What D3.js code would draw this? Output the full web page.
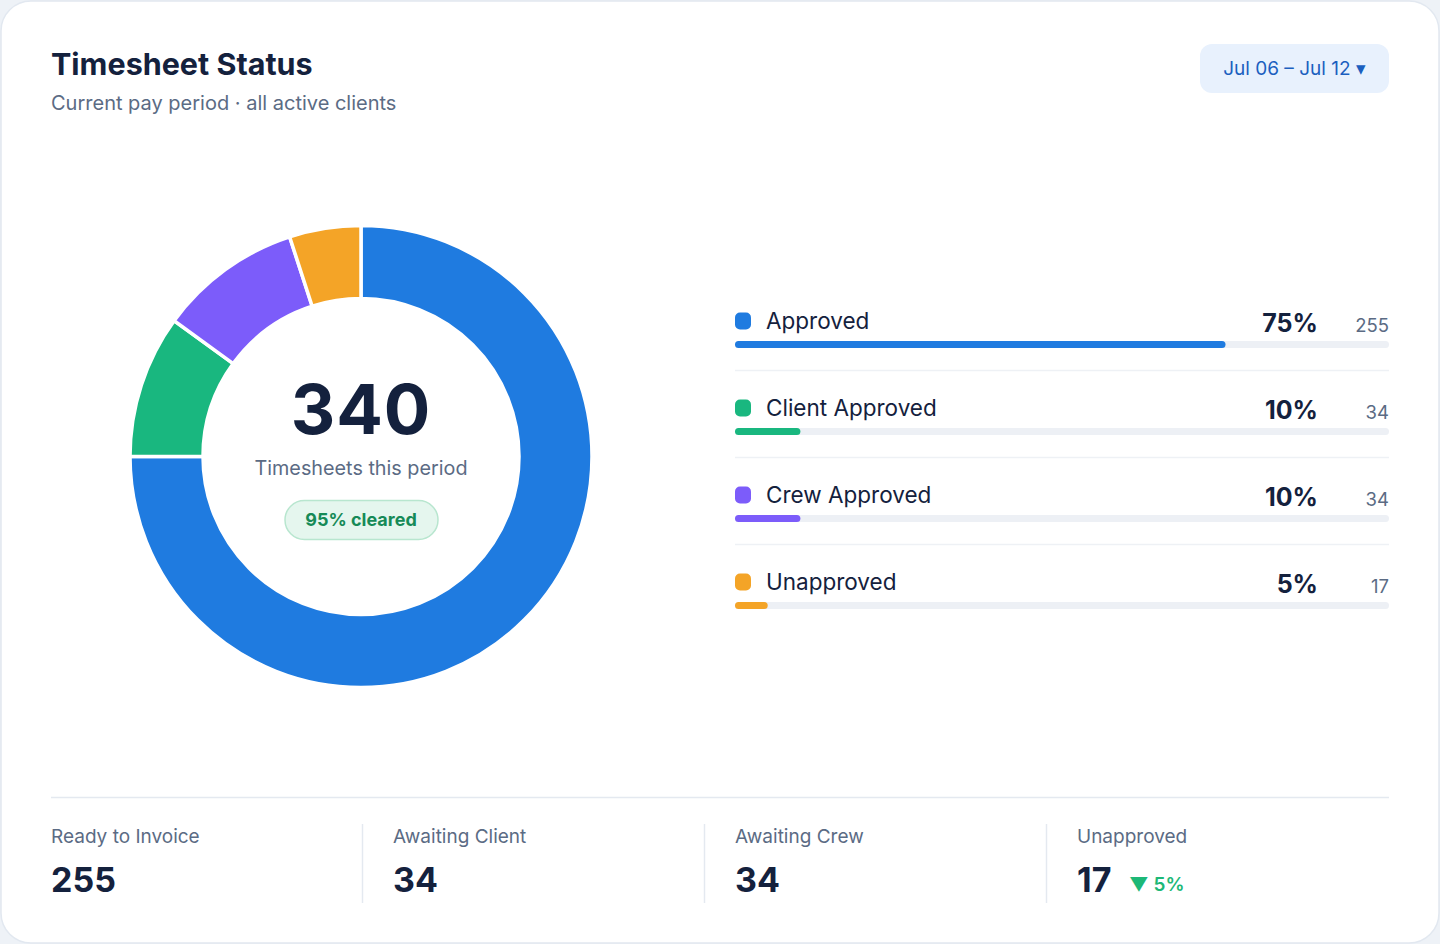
<!DOCTYPE html>
<html>
<head>
<meta charset="utf-8">
<script src="https://cdn.jsdelivr.net/npm/d3@7"></script>
<style>
  html, body { margin: 0; padding: 0; background: #eef2f7; }
  svg { display: block; font-family: Inter, "Open Sans", sans-serif; }
</style>
</head>
<body>
<div id="chart"></div>
<script>
// status breakdown
const categories = ['Approved', 'Client Approved', 'Crew Approved', 'Unapproved']
const counts = [255, 34, 34, 17]
const colors = ['#1f7be0', '#19b77f', '#7c5cfa', '#f4a427']

// footer summary
const summaryLabels = ['Ready to Invoice', 'Awaiting Client', 'Awaiting Crew', 'Unapproved']
const summaryValues = [255, 34, 34, 17]
const unapprovedDelta = '5%'

const width = 1440, height = 944
const total = d3.sum(counts)
const cleared = (counts[0] + counts[1] + counts[2]) / total
const pct = d3.format('.0%')

const svg = d3.select('#chart').append('svg')
  .attr('width', width)
  .attr('height', height)

svg.append('rect')
  .attr('x', 1).attr('y', 1)
  .attr('width', width - 2).attr('height', height - 2)
  .attr('rx', 30)
  .attr('fill', '#fff')
  .attr('stroke', '#e2e8f0')
  .attr('stroke-width', 1.5)

// header
svg.append('text')
  .attr('x', 51).attr('y', 75)
  .attr('font-size', 30.5).attr('font-weight', 700)
  .attr('fill', '#14213d')
  .text('Timesheet Status')

svg.append('text')
  .attr('x', 51).attr('y', 110)
  .attr('font-size', 20)
  .attr('fill', '#5b6b84')
  .text('Current pay period · all active clients')

let btn = svg.append('g').attr('transform', 'translate(1200,44)')
btn.append('rect')
  .attr('width', 189).attr('height', 49).attr('rx', 12)
  .attr('fill', '#e8f1fd')
btn.append('text')
  .attr('x', 94.5).attr('y', 31)
  .attr('text-anchor', 'middle')
  .attr('font-size', 19)
  .attr('fill', '#1b5fbf')
  .text('Jul 06 – Jul 12 ▾')

// donut
const cx = 361, cy = 456.5
const pie = d3.pie().sort(null).value(d => d)
const arc = d3.arc().innerRadius(158).outerRadius(231)

let donut = svg.append('g').attr('transform', `translate(${cx},${cy})`)

donut.selectAll('path')
  .data(pie(counts))
  .enter()
  .append('path')
  .attr('d', arc)
  .attr('fill', (d, i) => colors[i])
  .attr('stroke', '#fff')
  .attr('stroke-width', 3.5)
  .attr('stroke-linejoin', 'miter')

donut.append('text')
  .attr('y', -23)
  .attr('text-anchor', 'middle')
  .attr('font-size', 69).attr('font-weight', 700)
  .attr('letter-spacing', 1)
  .attr('fill', '#14213d')
  .text(total)

donut.append('text')
  .attr('y', 18)
  .attr('text-anchor', 'middle')
  .attr('font-size', 19.8)
  .attr('fill', '#5b6b84')
  .text('Timesheets this period')

donut.append('rect')
  .attr('x', -76).attr('y', 44)
  .attr('width', 153).attr('height', 39).attr('rx', 19.5)
  .attr('fill', '#e5f6ee')
  .attr('stroke', '#b8e6cf')
  .attr('stroke-width', 1.5)

donut.append('text')
  .attr('y', 69.5)
  .attr('text-anchor', 'middle')
  .attr('font-size', 18).attr('font-weight', 700)
  .attr('fill', '#168a57')
  .text(pct(cleared) + ' cleared')

// legend rows with progress bars
const legendX = 735, legendW = 654
const x = d3.scaleLinear().domain([0, 1]).range([0, legendW])
const y = d3.scaleBand().domain(categories).range([300, 648])

let rows = svg.append('g').selectAll('g')
  .data(categories)
  .enter()
  .append('g')
  .attr('transform', d => `translate(${legendX},${y(d)})`)

rows.append('rect')
  .attr('x', 0).attr('y', 12.5)
  .attr('width', 16).attr('height', 17).attr('rx', 5)
  .attr('fill', (d, i) => colors[i])

rows.append('text')
  .attr('x', 31).attr('y', 29)
  .attr('font-size', 22.5)
  .attr('fill', '#14213d')
  .text(d => d)

rows.append('text')
  .attr('x', 583).attr('y', 32)
  .attr('text-anchor', 'end')
  .attr('font-size', 25).attr('font-weight', 700)
  .attr('fill', '#14213d')
  .text((d, i) => pct(counts[i] / total))

rows.append('text')
  .attr('x', legendW).attr('y', 32)
  .attr('text-anchor', 'end')
  .attr('font-size', 18.5)
  .attr('fill', '#5b6b84')
  .text((d, i) => counts[i])

rows.append('rect')
  .attr('x', 0).attr('y', 41)
  .attr('width', x(1)).attr('height', 7).attr('rx', 3.5)
  .attr('fill', '#edf0f5')

rows.append('rect')
  .attr('x', 0).attr('y', 41)
  .attr('width', (d, i) => x(counts[i] / total)).attr('height', 7).attr('rx', 3.5)
  .attr('fill', (d, i) => colors[i])

rows.filter((d, i) => i < categories.length - 1)
  .append('line')
  .attr('x1', 0).attr('x2', legendW)
  .attr('y1', 70.5).attr('y2', 70.5)
  .attr('stroke', '#eef1f5')
  .attr('stroke-width', 1.5)

// footer summary
svg.append('line')
  .attr('x1', 51).attr('x2', 1389)
  .attr('y1', 797.5).attr('y2', 797.5)
  .attr('stroke', '#e4e9f0')
  .attr('stroke-width', 1.5)

const colX = d3.scaleBand().domain(summaryLabels).range([51, 1419])

let cols = svg.append('g').selectAll('g')
  .data(summaryLabels)
  .enter()
  .append('g')
  .attr('transform', d => `translate(${colX(d)},0)`)

cols.filter((d, i) => i > 0)
  .append('line')
  .attr('x1', -30.5).attr('x2', -30.5)
  .attr('y1', 824).attr('y2', 903)
  .attr('stroke', '#e4e9f0')
  .attr('stroke-width', 1.5)

cols.append('text')
  .attr('x', 0).attr('y', 843)
  .attr('font-size', 19)
  .attr('fill', '#5b6b84')
  .text(d => d)

cols.append('text')
  .attr('x', 0).attr('y', 892)
  .attr('font-size', 34).attr('font-weight', 700)
  .attr('fill', '#14213d')
  .text((d, i) => summaryValues[i])

cols.filter((d, i) => i === summaryLabels.length - 1)
  .append('text')
  .attr('x', 52).attr('y', 891)
  .attr('font-size', 19).attr('font-weight', 600)
  .attr('fill', '#1db877')
  .text('▼ ' + unapprovedDelta)
</script>
</body>
</html>
